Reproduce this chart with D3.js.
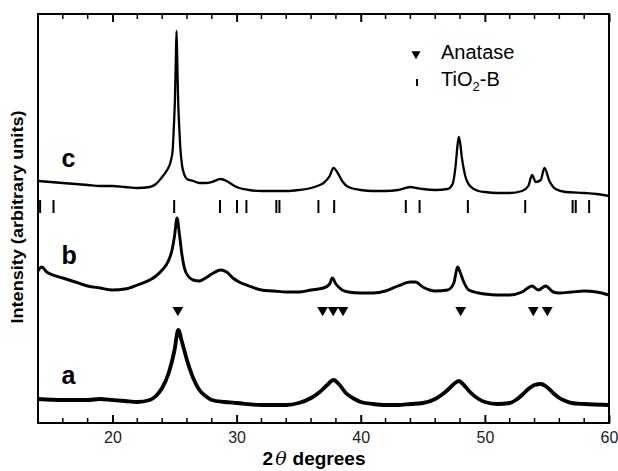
<!DOCTYPE html>
<html><head><meta charset="utf-8">
<script src="https://cdn.jsdelivr.net/npm/d3@7"></script>
<style>body{margin:0;background:#fff}svg{display:block}</style>
</head><body>
<script>
// 2-theta (degrees) and intensity (arbitrary units, offset patterns)
const curveC = [[14,242],[15,241],[16,240],[17,239],[18,238],[19,237],[20,237],[21,236],[22,235],[23,236],[23.5,239],[24,246],[24.4,253],[24.7,262],[24.85,273],[24.95,298],[25.03,323],[25.1,361],[25.16,392],[25.22,361],[25.29,323],[25.37,298],[25.45,278],[25.6,258],[25.8,248],[26,244],[26.5,242],[27,240],[27.5,240],[28,241],[28.7,244],[29.2,242],[29.7,238],[30,236],[31,233],[32,232],[33,232],[34,232],[35,233],[36,235],[36.5,237],[37,240],[37.5,247],[37.8,255],[38.1,251],[38.5,242],[39,236],[40,233],[41,232],[42,232],[43,233],[44,236],[44.5,235],[45,234],[46,233],[47,234],[47.4,239],[47.65,258],[47.8,278],[47.9,286],[48,281],[48.15,265],[48.4,248],[48.8,237],[49.5,232],[50,231],[51,230],[52,230],[53,232],[53.5,237],[53.8,248],[54.1,241],[54.5,243],[54.8,255],[55.2,242],[55.7,234],[56.5,231],[58,230],[59,229],[60,227]];
const curveB = [[14,152],[14.3,156],[14.7,151],[15,149],[16,145],[17,141],[18,137],[19,135],[20,133],[21,134],[22,138],[23,143],[23.5,147],[24,153],[24.5,162],[24.8,173],[25,187],[25.2,205],[25.4,188],[25.6,168],[25.9,151],[26.5,143],[27,142],[27.5,145],[28,149],[28.7,153],[29.2,151],[29.7,145],[30.2,141],[31,137],[32,133],[33,132],[34,131],[35,131],[36,133],[37,135],[37.5,139],[37.7,145],[38,139],[38.5,133],[39,131],[40,130],[41,130],[42,132],[43,137],[44,141],[44.4,141],[45,136],[46,132],[47,133],[47.5,140],[47.8,156],[48,151],[48.3,141],[48.7,133],[49.5,130],[50,129],[51,128],[52,128],[53,131],[53.8,137],[54.3,133],[54.9,137],[55.5,131],[56,130],[57,131],[58,132],[59,131],[60,128]];
const curveA = [[14,24],[16,23],[18,23],[19,24],[20,23],[21,22],[22,21],[23,23],[23.5,27],[24,35],[24.5,49],[25,73],[25.3,93],[25.6,81],[26,63],[26.5,45],[27,33],[27.5,27],[28,23],[29,21],[30,20],[32,18],[34,18],[35,20],[36,25],[36.7,31],[37.3,38],[37.8,43],[38.3,38],[38.8,30],[39.5,24],[40,21],[41,19],[42,18],[43,18],[44,19],[45,20],[46,24],[46.5,28],[47,33],[47.5,39],[47.9,42],[48.3,38],[48.8,31],[49.5,24],[50,21],[51,19],[52,20],[52.5,23],[53,28],[53.5,34],[54,38],[54.5,39],[55,36],[55.5,30],[56,25],[56.5,22],[57,20],[58,19],[60,18]];
const anatasePeaks = [25.27, 36.93, 37.78, 38.57, 48.05, 53.9, 55.03];
const tio2bPeaks = [14.17, 15.25, 24.97, 28.66, 30.03, 30.79, 33.2, 33.45, 36.59, 37.86, 43.63, 44.74, 48.63, 53.25, 57.07, 57.32, 58.4];
const xTicks = [20, 30, 40, 50, 60];
const xMinorTicks = d3.range(16, 60, 2);
const sampleLabels = [["c", 256], ["b", 159], ["a", 39]];

const W = 618, H = 471;
const FONT = "'Liberation Sans', Arial, Helvetica, sans-serif";
const x = d3.scaleLinear().domain([14, 60]).range([38, 609]);
const y = d3.scaleLinear().domain([0, 409]).range([423, 14]);

const svg = d3.select("body").append("svg").attr("width", W).attr("height", H)
  .style("font-family", FONT);

const line = d3.line().x(d => x(d[0])).y(d => y(d[1])).curve(d3.curveMonotoneX);
[[curveC, 2.3], [curveB, 2.9], [curveA, 3.8]].forEach(([data, sw]) => {
  svg.append("path").datum(data).attr("d", line)
    .attr("fill", "none").attr("stroke", "#000").attr("stroke-width", sw)
    .attr("stroke-linejoin", "round");
});

// TiO2-B reference ticks
svg.append("g").selectAll("line").data(tio2bPeaks).join("line")
  .attr("x1", d => x(d)).attr("x2", d => x(d))
  .attr("y1", y(223)).attr("y2", y(210))
  .attr("stroke", "#000").attr("stroke-width", 2);

// Anatase triangles
const tri = d3.symbol().type(d3.symbolTriangle).size(50);
svg.append("g").selectAll("path").data(anatasePeaks).join("path")
  .attr("d", tri)
  .attr("transform", d => `translate(${x(d)},${y(113)}) rotate(180)`)
  .attr("fill", "#000");

// sample letters
svg.append("g").selectAll("text").data(sampleLabels).join("text")
  .attr("x", x(15.9)).attr("y", d => y(d[1]))
  .attr("font-family", FONT)
  .attr("font-size", 25).attr("font-weight", "bold").text(d => d[0]);

// frame
svg.append("rect").attr("x", 38).attr("y", 14).attr("width", 571).attr("height", 409)
  .attr("fill", "none").attr("stroke", "#000").attr("stroke-width", 2);

// bottom axis (ticks inward)
const bottomAxis = svg.append("g").attr("transform", `translate(0,423)`)
  .call(d3.axisBottom(x).tickValues(xTicks).tickSize(-8).tickPadding(9).tickFormat(d3.format("d")));
bottomAxis.attr("font-family", FONT).attr("font-size", 16);
bottomAxis.select(".domain").remove();
bottomAxis.selectAll(".tick line").attr("stroke-width", 2);
bottomAxis.selectAll(".tick text").attr("fill", "#222");
svg.append("g").selectAll("line").data(xMinorTicks.filter(d => d % 10 !== 0)).join("line")
  .attr("x1", d => x(d)).attr("x2", d => x(d)).attr("y1", 423).attr("y2", 418)
  .attr("stroke", "#000").attr("stroke-width", 1.5);

// top axis (ticks inward)
const topAxis = svg.append("g").attr("transform", `translate(0,14)`)
  .call(d3.axisTop(x).tickValues(xTicks).tickSize(-8).tickFormat(""));
topAxis.select(".domain").remove();
topAxis.selectAll(".tick line").attr("stroke-width", 2);
svg.append("g").selectAll("line").data(xMinorTicks.filter(d => d % 10 !== 0)).join("line")
  .attr("x1", d => x(d)).attr("x2", d => x(d)).attr("y1", 14).attr("y2", 19)
  .attr("stroke", "#000").attr("stroke-width", 1.5);

// axis titles
const xt = svg.append("text").attr("x", 314).attr("y", 465).attr("text-anchor", "middle")
  .attr("font-size", 19).attr("font-weight", "bold");
xt.append("tspan").text("2");
xt.append("tspan").attr("font-style", "italic").attr("font-family", "'DejaVu Serif', serif").attr("font-weight", "normal").attr("dx", 2).text("θ");
xt.append("tspan").attr("dx", 6).text("degrees");

svg.append("text").attr("transform", "translate(23,217) rotate(-90)")
  .attr("text-anchor", "middle").attr("font-size", 17).attr("font-weight", "bold")
  .attr("textLength", 213).attr("lengthAdjust", "spacingAndGlyphs")
  .text("Intensity (arbitrary units)");

// legend
svg.append("path").attr("d", d3.symbol().type(d3.symbolTriangle).size(36))
  .attr("transform", "translate(416,54) rotate(180)").attr("fill", "#000");
svg.append("text").attr("x", 441).attr("y", 59).attr("font-size", 20).text("Anatase");
svg.append("line").attr("x1", 417).attr("x2", 417).attr("y1", 79).attr("y2", 86)
  .attr("stroke", "#000").attr("stroke-width", 2);
const lt = svg.append("text").attr("x", 441).attr("y", 86).attr("font-size", 20);
lt.append("tspan").text("TiO");
lt.append("tspan").attr("font-size", 13).attr("dy", 5).text("2");
lt.append("tspan").attr("dy", -5).text("-B");
</script>
</body></html>
